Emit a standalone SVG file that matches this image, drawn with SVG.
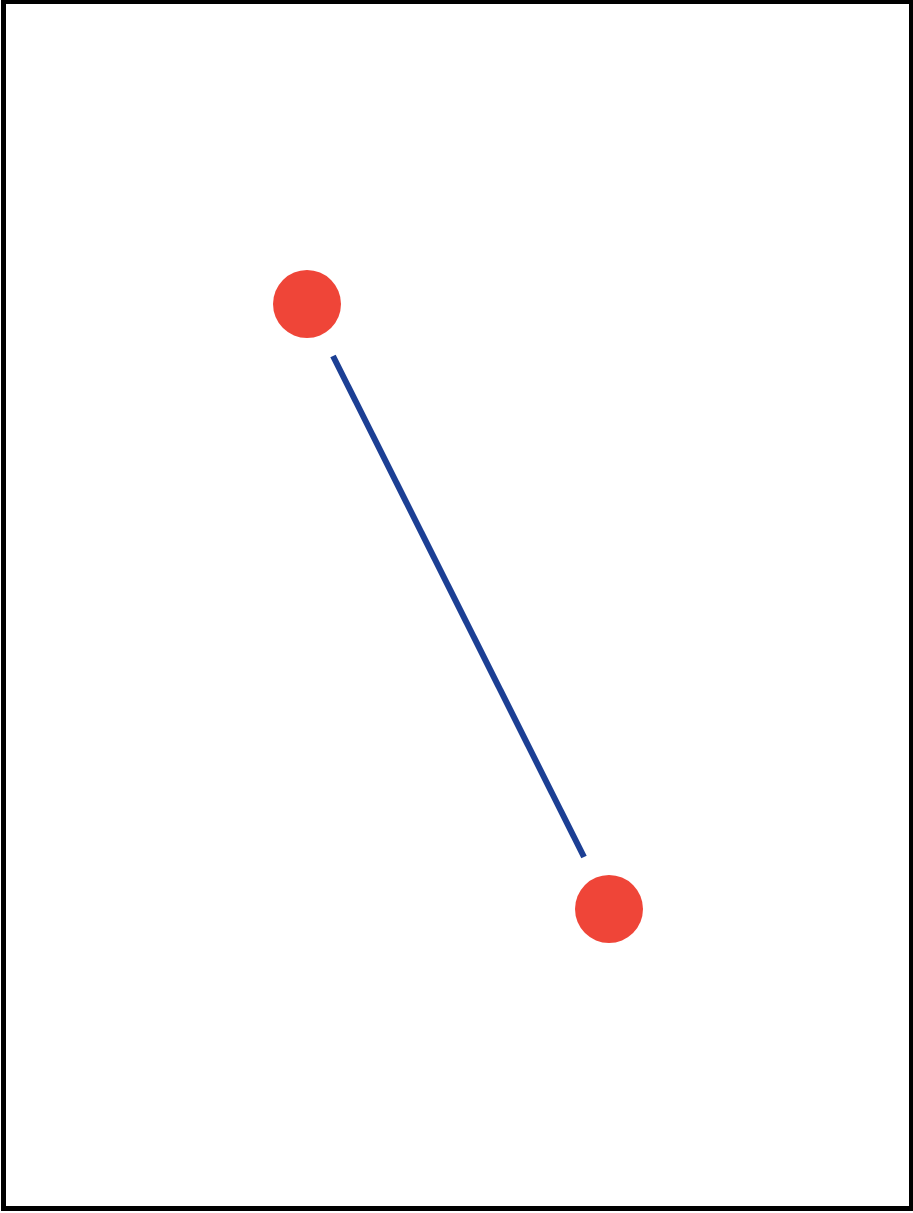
<svg xmlns="http://www.w3.org/2000/svg" width="913" height="1213" viewBox="0 0 913 1213">
<style>
.node{fill:#ef4538;}
.edge{stroke:#1c3f94;stroke-width:6;fill:none;}
</style>
<rect x="3.5" y="1.5" width="908" height="1207" fill="#ffffff" stroke="#000000" stroke-width="5"/>
<g id="connectors">
<line class="edge" x1="333" y1="356" x2="584" y2="857"/>
</g>
<g id="node-a"><circle class="node" cx="307" cy="304" r="34"/></g>
<g id="node-b"><circle class="node" cx="609" cy="909" r="34"/></g>
</svg>
